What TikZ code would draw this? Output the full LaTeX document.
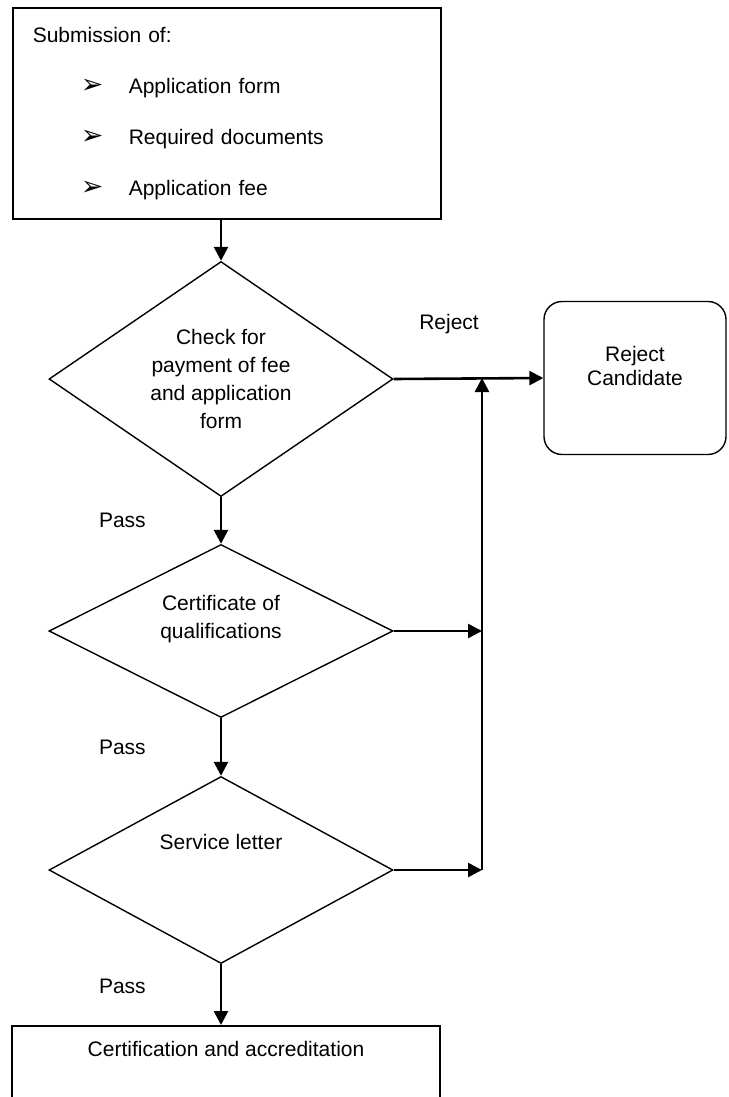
\documentclass[tikz,border=0pt]{standalone}
\usepackage{fontspec}
\setmainfont{Liberation Sans}
\newfontfamily\bulletfont{DejaVu Sans}
\usepackage{tikz}
\usetikzlibrary{arrows.meta,positioning,shapes.geometric}

\begin{document}
\begin{tikzpicture}[
  x=1pt,y=-1pt,
  font=\fontsize{21}{28}\selectfont,
  box/.style={draw,line width=1.6pt,inner sep=0pt,minimum width=428pt},
  decision/.style={draw,diamond,aspect=1.5,line width=1.4pt,inner sep=0pt,minimum width=344pt,align=center},
  outcome/.style={draw,rounded corners=18pt,line width=1.4pt,minimum width=182pt,minimum height=153pt,align=center,font=\fontsize{21}{24}\selectfont},
  arrow/.style={-{Triangle[length=14pt,width=14pt]},line width=2.6pt},
  edgeword/.style={inner sep=0pt}
]
\useasboundingbox (0,0) rectangle (728,1097);
\clip (0,0) rectangle (728,1097);

\node[box,anchor=north west,minimum height=211pt,align=left,text width=388pt,font=\fontsize{21}{51}\selectfont] (submit) at (12,7) {Submission of:\\
\hspace*{48pt}\makebox[48pt][l]{\bulletfont\fontsize{27}{27}\selectfont ➢}Application form\\
\hspace*{48pt}\makebox[48pt][l]{\bulletfont\fontsize{27}{27}\selectfont ➢}Required documents\\
\hspace*{48pt}\makebox[48pt][l]{\bulletfont\fontsize{27}{27}\selectfont ➢}Application fee};
\node[decision,minimum height=235pt] (check) at (221,379) {Check for\\payment of fee\\and application\\form};
\node[decision,minimum height=173pt] (cert) at (221,631) {Certificate of\\qualifications\\\mbox{}};
\node[decision,minimum height=187pt] (letter) at (221,870) {Service letter\\\mbox{}\\\mbox{}};
\node[outcome] (reject) at (635,378) {Reject\\Candidate\\\mbox{}};
\node[box,anchor=north,text height=15pt,text depth=90pt,inner ysep=16pt] (final) at (226,1025) {Certification and accreditation};
\coordinate (merge) at (482,378);

\draw[arrow] (submit.south -| check.north) -- (check.north);
\draw[arrow] (check.east) -- node[edgeword,pos=0.37,above=43pt] (rejectword) {Reject} (reject.west);
\draw[arrow] (check.south) -- node[edgeword,left=74pt] (pass1) {Pass} (cert.north);
\draw[arrow] (cert.south) -- node[edgeword,left=74pt] (pass2) {Pass} (letter.north);
\draw[arrow] (letter.south) -- node[edgeword,pos=0.37,left=74pt] (pass3) {Pass} (letter.south |- final.north);
\draw[arrow] (cert.east) -- (cert.east -| merge);
\draw[arrow] (letter.east) -- (letter.east -| merge);
\draw[arrow] (letter.east -| merge) -- (merge);
\end{tikzpicture}
\end{document}
